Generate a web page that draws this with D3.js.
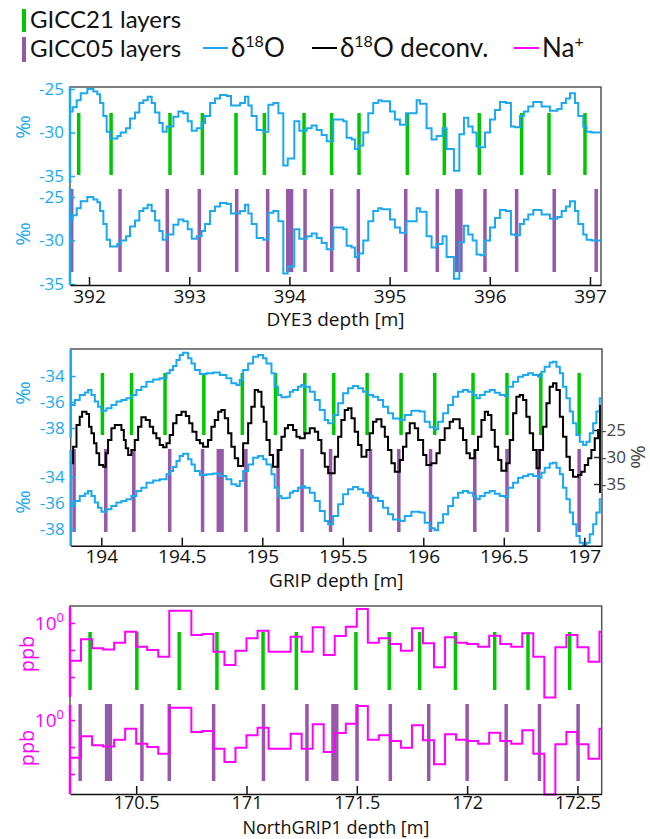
<!DOCTYPE html>
<html><head><meta charset="utf-8">
<script src="https://cdn.jsdelivr.net/npm/d3@7"></script>
<style>body{margin:0;background:#fff}svg{display:block}</style>
</head><body>
<svg id="c" width="650" height="839"></svg>
<script>
// ---------------- DATA ----------------
const legendLayers = ["GICC21 layers", "GICC05 layers"];
const legendSeries = ["δ18O", "δ18O deconv.", "Na+"];

const dye3XTicks = [392, 393, 394, 395, 396, 397];
const dye3YTicks = [-25, -30, -35];
const gripXTicks = [194, 194.5, 195, 195.5, 196, 196.5, 197];
const gripYTicks = [-34, -36, -38];
const gripDeconvTicks = [-25, -30, -35];
const ngripXTicks = [170.5, 171, 171.5, 172, 172.5];
const ngripYTicks = [1];
const ngripMinorTicks = [0.5, 0.25];

// DYE3 d18O [depth m, permil]
const dye3D18O = [[391.804,-27.6],[391.837,-27.1],[391.877,-26.3],[391.917,-25.5],[391.983,-25.0],[392.043,-25.3],[392.083,-25.6],[392.110,-26.6],[392.143,-28.1],[392.176,-29.9],[392.210,-30.7],[392.283,-30.4],[392.316,-30.0],[392.369,-29.5],[392.409,-28.4],[392.459,-27.7],[392.502,-26.6],[392.542,-26.3],[392.585,-25.9],[392.625,-26.6],[392.659,-27.7],[392.702,-28.9],[392.735,-29.9],[392.775,-29.3],[392.842,-28.2],[392.892,-27.6],[392.941,-27.8],[392.985,-28.7],[393.025,-29.8],[393.075,-29.5],[393.124,-28.9],[393.158,-28.1],[393.208,-26.6],[393.257,-26.1],[393.307,-25.7],[393.374,-25.8],[393.417,-26.9],[393.507,-26.6],[393.557,-25.9],[393.590,-26.9],[393.623,-28.1],[393.673,-29.7],[393.740,-29.9],[393.790,-26.8],[393.840,-26.6],[393.890,-27.8],[393.939,-33.8],[393.983,-33.0],[394.049,-28.7],[394.099,-29.8],[394.172,-29.5],[394.222,-29.2],[394.272,-29.7],[394.322,-30.3],[394.372,-31.0],[394.438,-28.5],[394.538,-28.7],[394.571,-30.6],[394.621,-30.8],[394.654,-31.9],[394.688,-31.5],[394.737,-30.0],[394.787,-27.8],[394.837,-26.6],[394.887,-26.3],[394.920,-26.4],[395.004,-27.6],[395.053,-28.5],[395.103,-29.1],[395.163,-27.8],[395.270,-26.3],[395.303,-26.7],[395.369,-29.5],[395.419,-30.8],[395.469,-30.4],[395.529,-29.5],[395.569,-31.9],[395.642,-34.4],[395.696,-30.2],[395.742,-28.3],[395.785,-29.3],[395.829,-30.0],[395.868,-31.6],[395.908,-31.7],[395.952,-30.0],[396.002,-28.5],[396.052,-27.4],[396.101,-26.5],[396.161,-26.6],[396.211,-29.3],[396.251,-29.4],[396.301,-28.1],[396.341,-27.6],[396.384,-27.0],[396.434,-26.5],[396.517,-27.0],[396.600,-27.5],[396.674,-27.3],[396.717,-26.6],[396.760,-26.1],[396.800,-25.5],[396.850,-26.6],[396.883,-28.1],[396.933,-29.3],[396.966,-29.9],[397.016,-30.0],[397.110,-30.0]];

// GRIP d18O [depth m, permil]
const gripD18O = [[193.811,-36.23],[193.835,-35.85],[193.866,-35.46],[193.898,-35.26],[193.918,-35.08],[193.939,-35.46],[193.960,-35.97],[193.980,-36.36],[194.001,-36.67],[194.032,-36.49],[194.063,-36.23],[194.094,-35.97],[194.125,-35.85],[194.156,-35.72],[194.187,-35.46],[194.218,-35.08],[194.249,-34.82],[194.281,-34.44],[194.322,-34.26],[194.363,-34.18],[194.405,-33.79],[194.425,-33.54],[194.446,-33.23],[194.467,-32.77],[194.487,-32.38],[194.508,-32.21],[194.539,-32.64],[194.560,-33.03],[194.581,-33.54],[194.612,-33.85],[194.653,-33.79],[194.695,-33.74],[194.736,-33.92],[194.777,-34.18],[194.808,-34.56],[194.839,-34.69],[194.860,-34.31],[194.881,-33.54],[194.912,-33.03],[194.943,-32.51],[194.974,-32.38],[195.005,-32.64],[195.026,-33.03],[195.057,-33.79],[195.077,-34.82],[195.098,-35.46],[195.119,-35.64],[195.150,-35.59],[195.171,-35.21],[195.191,-35.08],[195.222,-34.82],[195.243,-34.69],[195.264,-34.82],[195.295,-35.21],[195.326,-35.85],[195.357,-36.62],[195.388,-37.38],[195.409,-37.64],[195.440,-37.00],[195.471,-36.10],[195.502,-35.33],[195.533,-34.95],[195.564,-34.77],[195.595,-34.95],[195.626,-35.21],[195.657,-35.46],[195.688,-35.59],[195.719,-35.85],[195.750,-36.36],[195.781,-36.87],[195.812,-37.26],[195.854,-37.38],[195.885,-37.00],[195.926,-36.67],[195.978,-36.74],[196.009,-37.51],[196.040,-37.95],[196.071,-38.10],[196.092,-37.51],[196.123,-36.87],[196.154,-36.23],[196.185,-35.59],[196.216,-35.21],[196.247,-35.08],[196.278,-35.21],[196.309,-35.46],[196.330,-35.72],[196.351,-35.46],[196.382,-35.21],[196.413,-35.08],[196.444,-35.28],[196.475,-35.46],[196.506,-35.54],[196.527,-34.82],[196.558,-34.44],[196.589,-34.05],[196.620,-33.92],[196.651,-33.79],[196.682,-33.92],[196.713,-34.05],[196.734,-33.67],[196.754,-33.28],[196.785,-32.97],[196.806,-32.90],[196.827,-33.28],[196.848,-33.79],[196.868,-34.82],[196.889,-35.72],[196.910,-36.74],[196.930,-37.64],[196.951,-38.54],[196.972,-39.05],[196.993,-39.31],[197.013,-39.05],[197.034,-38.41],[197.055,-37.64],[197.075,-36.74],[197.096,-35.72],[197.110,-35.72]];

// GRIP d18O deconvolved [depth m, permil]
const gripDeconv = [[193.804,-31.17],[193.825,-28.09],[193.846,-24.07],[193.866,-22.53],[193.881,-21.60],[193.908,-22.04],[193.924,-24.38],[193.939,-25.62],[193.955,-27.47],[193.970,-29.32],[193.987,-31.48],[194.011,-31.79],[194.028,-29.32],[194.042,-26.85],[194.063,-24.69],[194.084,-24.07],[194.125,-25.00],[194.140,-26.85],[194.152,-28.40],[194.167,-29.63],[194.187,-28.70],[194.208,-26.85],[194.229,-24.38],[194.249,-22.65],[194.276,-23.15],[194.301,-24.38],[194.322,-25.62],[194.342,-26.54],[194.363,-27.78],[194.384,-28.21],[194.405,-27.47],[194.425,-25.93],[194.446,-23.77],[194.467,-22.22],[194.498,-21.60],[194.525,-22.41],[194.546,-23.77],[194.566,-25.31],[194.591,-26.85],[194.612,-27.47],[194.632,-28.09],[194.663,-26.85],[194.684,-24.38],[194.705,-23.15],[194.726,-21.60],[194.746,-21.30],[194.767,-22.84],[194.788,-25.62],[194.808,-28.09],[194.829,-30.25],[194.850,-31.67],[194.881,-27.47],[194.912,-23.77],[194.932,-20.68],[194.953,-17.59],[194.974,-17.90],[194.995,-20.68],[195.009,-23.46],[195.026,-26.85],[195.046,-29.63],[195.067,-31.79],[195.098,-28.70],[195.119,-26.23],[195.140,-24.69],[195.160,-24.07],[195.191,-25.00],[195.212,-26.23],[195.233,-26.54],[195.264,-25.62],[195.295,-24.69],[195.326,-25.31],[195.347,-26.85],[195.367,-29.32],[195.388,-31.79],[195.409,-33.02],[195.450,-29.94],[195.471,-26.23],[195.491,-23.15],[195.512,-21.30],[195.533,-20.99],[195.554,-22.84],[195.574,-25.31],[195.595,-27.78],[195.616,-29.94],[195.647,-28.70],[195.667,-25.62],[195.688,-23.46],[195.709,-23.02],[195.740,-24.38],[195.761,-26.23],[195.781,-28.70],[195.802,-31.17],[195.823,-32.72],[195.854,-30.56],[195.874,-28.09],[195.895,-25.62],[195.916,-23.77],[195.947,-24.69],[195.968,-26.85],[195.999,-29.63],[196.019,-31.48],[196.050,-31.17],[196.082,-29.32],[196.102,-26.85],[196.133,-24.69],[196.164,-23.46],[196.185,-23.02],[196.226,-24.69],[196.247,-26.85],[196.268,-29.32],[196.289,-30.25],[196.320,-28.70],[196.340,-26.23],[196.361,-23.15],[196.382,-21.60],[196.402,-22.22],[196.423,-25.00],[196.444,-28.09],[196.465,-30.56],[196.485,-32.53],[196.516,-31.17],[196.537,-26.85],[196.558,-21.91],[196.578,-18.83],[196.599,-18.52],[196.620,-19.44],[196.640,-22.53],[196.661,-25.62],[196.682,-28.70],[196.703,-32.10],[196.723,-28.70],[196.744,-24.38],[196.765,-20.06],[196.785,-16.98],[196.806,-16.36],[196.827,-17.59],[196.848,-22.53],[196.868,-26.23],[196.889,-29.94],[196.910,-32.41],[196.930,-33.64],[196.961,-33.33],[196.982,-32.72],[197.003,-31.48],[197.024,-30.25],[197.044,-28.70],[197.065,-26.54],[197.086,-25.00],[197.100,-25.00]];

// NorthGRIP1 Na+ [depth m, ppb]
const ngripNa = [[170.20,0.380],[170.25,0.658],[170.30,0.522],[170.35,0.508],[170.40,0.604],[170.45,0.800],[170.50,0.545],[170.55,0.500],[170.60,0.421],[170.65,1.372],[170.70,1.372],[170.75,0.735],[170.80,0.754],[170.85,0.479],[170.90,0.340],[170.95,0.491],[171.00,0.675],[171.05,0.821],[171.10,0.479],[171.15,0.479],[171.20,0.704],[171.25,0.479],[171.30,0.895],[171.35,0.440],[171.40,0.716],[171.45,0.910],[171.50,1.432],[171.55,0.604],[171.60,0.675],[171.65,0.583],[171.70,0.491],[171.75,0.872],[171.80,0.593],[171.85,0.321],[171.90,0.692],[171.95,0.604],[172.00,0.583],[172.05,0.545],[172.10,0.723],[172.15,0.583],[172.20,0.545],[172.25,0.767],[172.30,0.421],[172.35,0.148],[172.40,0.536],[172.45,0.735],[172.50,0.536],[172.55,0.371],[172.60,0.800],[172.61,0.800]];

// annual layer marks [depth m]
const dye3GICC21 = [391.897,392.220,392.808,393.131,393.467,393.750,394.146,394.422,394.695,395.177,395.546,395.895,396.318,396.591,396.950];
const dye3GICC05 = [391.827,392.309,392.781,393.101,393.474,393.783,394.156,394.422,394.688,395.161,395.476,395.952,396.268,396.643,397.062];
const dye3GICC05Uncertain = [[393.966,394.039],[395.653,395.729]];
const gripGICC21 = [194.007,194.188,194.396,194.637,194.876,195.082,195.264,195.444,195.651,195.862,196.071,196.309,196.520,196.730,196.968];
const gripGICC05 = [193.831,194.028,194.202,194.425,194.629,194.898,195.098,195.247,195.424,195.672,195.848,196.045,196.320,196.520,196.717,196.968];
const gripGICC05Uncertain = [[194.716,194.761]];
const ngripGICC21 = [170.291,170.503,170.695,170.866,171.075,171.226,171.496,171.647,171.785,171.947,172.125,172.276,172.465];
const ngripGICC05 = [170.246,170.526,170.650,170.851,171.077,171.274,171.501,171.652,171.826,172.000,172.177,172.328,172.503];
const ngripGICC05Uncertain = [[170.358,170.391],[171.384,171.417]];

// ---------------- STYLE ----------------
const C = {blue:"#1aa9f0", green:"#00c800", purple:"#9659a8", magenta:"#ff00ff", black:"#000", frame:"#555"};
const TICKFONT = "'Open Sans', sans-serif";
const LEGFONT = "Lato, sans-serif";
const svg = d3.select("#c");

// ---------------- LEGEND ----------------
const leg = svg.append("g");
leg.append("rect").attr("x",22).attr("y",9).attr("width",4).attr("height",23).attr("fill",C.green);
leg.append("rect").attr("x",22).attr("y",37).attr("width",4).attr("height",25).attr("fill",C.purple);
leg.append("text").attr("x",30).attr("y",28).text(legendLayers[0]);
leg.append("text").attr("x",30).attr("y",57).text(legendLayers[1]);
leg.selectAll("text").attr("font-family",LEGFONT).attr("font-size",24).attr("fill","#111");
function legItem(x0, color, label){
  leg.append("line").attr("x1",x0).attr("x2",x0+25).attr("y1",48).attr("y2",48).attr("stroke",color).attr("stroke-width",2);
  const t = leg.append("text").attr("x",x0+28).attr("y",57).attr("font-family",LEGFONT).attr("font-size",26).attr("fill","#111");
  if (label.startsWith("δ18O")) {
    t.append("tspan").text("δ");
    t.append("tspan").text("18").attr("font-size",16).attr("dy",-10);
    t.append("tspan").text(label.slice(3)).attr("dy",10);
  } else {
    t.append("tspan").text(label.slice(0,2));
    t.append("tspan").text("+").attr("font-size",16).attr("dy",-10);
  }
}
legItem(203, C.blue, legendSeries[0]);
legItem(312, C.black, legendSeries[1]);
legItem(514, C.magenta, legendSeries[2]);

// ---------------- HELPERS ----------------
const stepLine = (x, y) => d3.line().x(d => x(d[0])).y(d => y(d[1])).curve(d3.curveStepAfter);

function frame(x0, x1, y0, y1){
  svg.append("path").attr("d",`M${x0},${y1}V${y0}H${x1}V${y1}`).attr("fill","none").attr("stroke",C.frame).attr("stroke-width",1.5);
}
function xAxis(x, ticks, yPos, title, titleY, fs, pad){
  fs = fs || 19;
  const g = svg.append("g").attr("transform",`translate(0,${yPos})`)
    .call(d3.axisBottom(x).tickValues(ticks).tickFormat(d => String(d)).tickSizeInner(-8).tickSizeOuter(0).tickPadding(pad == null ? 4 : pad));
  g.select(".domain").attr("stroke","#111").attr("stroke-width",1.5);
  g.selectAll(".tick line").attr("stroke","#111").attr("stroke-width",1.5);
  g.selectAll("text").attr("font-family",TICKFONT).attr("font-size",fs).attr("fill","#111");
  svg.append("text").attr("x",(x.range()[0]+x.range()[1])/2).attr("y",titleY).attr("text-anchor","middle")
    .attr("font-family",TICKFONT).attr("font-size",fs).attr("fill","#111").text(title);
}
function yAxis(y, ticks, x0, yTop, yBot, color, fmt){
  const g = svg.append("g").attr("transform",`translate(${x0},0)`)
    .call(d3.axisLeft(y).tickValues(ticks).tickSize(-5).tickPadding(6).tickFormat(fmt || (d => String(d))));
  g.select(".domain").remove();
  g.selectAll(".tick line").attr("stroke",color).attr("stroke-width",1.5);
  g.selectAll("text").attr("font-family",TICKFONT).attr("font-size",17).attr("fill",color);
  svg.append("line").attr("x1",x0).attr("x2",x0).attr("y1",yTop).attr("y2",yBot).attr("stroke",color).attr("stroke-width",2.5);
  return g;
}
function yLabel(txt, x, y, color, rot){
  svg.append("text").attr("transform",`translate(${x},${y}) rotate(${rot||-90})`).attr("text-anchor","middle")
    .attr("dominant-baseline","central").attr("font-family",TICKFONT).attr("font-size",20).attr("fill",color).text(txt);
}
function bars(x, list, y0, y1, color){
  svg.append("g").selectAll("rect").data(list).join("rect")
    .attr("x", d => x(d) - 1.75).attr("width", 3.5).attr("y", y0).attr("height", y1 - y0).attr("fill", color);
}
function wideBars(x, list, y0, y1, color){
  svg.append("g").selectAll("rect").data(list).join("rect")
    .attr("x", d => x(d[0])).attr("width", d => x(d[1]) - x(d[0])).attr("y", y0).attr("height", y1 - y0).attr("fill", color);
}
function drawLine(data, x, y, color, w){
  svg.append("path").datum(data).attr("d", stepLine(x, y)).attr("fill","none").attr("stroke",color)
    .attr("stroke-width",w||2).attr("stroke-linejoin","miter");
}

// ---------------- PANEL 1: DYE3 ----------------
{
  const x = d3.scaleLinear().domain([391.81, 397.11]).range([70, 601]);
  const yU = d3.scaleLinear().domain([-25, -35]).range([89, 176]);
  const yL = d3.scaleLinear().domain([-25, -35]).range([197, 284]);
  frame(70, 601, 87, 285);
  bars(x, dye3GICC21, 113, 175, C.green);
  bars(x, dye3GICC05, 189, 272, C.purple);
  wideBars(x, dye3GICC05Uncertain, 189, 272, C.purple);
  drawLine(dye3D18O, x, yU, C.blue);
  drawLine(dye3D18O, x, yL, C.blue);
  yAxis(yU, dye3YTicks, 70, 87, 183, C.blue);
  yAxis(yL, dye3YTicks, 70, 188, 285, C.blue);
  yLabel("‰", 22, 127, C.blue);
  yLabel("‰", 22, 234, C.blue);
  xAxis(x, dye3XTicks, 285, "DYE3 depth [m]", 326);
}

// ---------------- PANEL 2: GRIP ----------------
{
  const x = d3.scaleLinear().domain([193.81, 197.11]).range([70.7, 602]);
  const yU = d3.scaleLinear().domain([-34, -38]).range([376, 428]);
  const yL = d3.scaleLinear().domain([-34, -38]).range([477, 529]);
  const yD = d3.scaleLinear().domain([-25, -35]).range([430, 484]);
  frame(70.7, 602, 349, 545.7);
  bars(x, gripGICC21, 373, 435, C.green);
  bars(x, gripGICC05, 449, 532, C.purple);
  wideBars(x, gripGICC05Uncertain, 449, 532, C.purple);
  drawLine(gripD18O, x, yU, C.blue);
  drawLine(gripD18O, x, yL, C.blue);
  drawLine(gripDeconv, x, yD, C.black);
  yAxis(yU, gripYTicks, 70.7, 349, 438, C.blue);
  yAxis(yL, gripYTicks, 70.7, 450, 545.7, C.blue);
  yLabel("‰", 22, 393, C.blue);
  yLabel("‰", 22, 502, C.blue);
  // right axis for deconvolved series
  const g = svg.append("g").attr("transform","translate(600,0)")
    .call(d3.axisRight(yD).tickValues(gripDeconvTicks).tickSize(-6).tickPadding(1).tickFormat(d => String(d)));
  g.select(".domain").remove();
  g.selectAll(".tick line").attr("stroke","#222").attr("stroke-width",1.5);
  g.selectAll("text").attr("font-family",TICKFONT).attr("font-size",17).attr("fill","#444");
  svg.append("line").attr("x1",600).attr("x2",600).attr("y1",405).attr("y2",493).attr("stroke","#111").attr("stroke-width",2);
  yLabel("‰", 638, 457, "#444", 90);
  xAxis(x, gripXTicks, 545.7, "GRIP depth [m]", 587);
}

// ---------------- PANEL 3: NorthGRIP1 ----------------
{
  const x = d3.scaleLinear().domain([170.2, 172.61]).range([70, 601.7]);
  const yU = d3.scaleLog().domain([1, 0.1]).range([623, 712.7]);
  const yL = d3.scaleLog().domain([1, 0.1]).range([720, 809.7]);
  frame(70, 601.7, 606, 794);
  bars(x, ngripGICC21, 632, 690, C.green);
  bars(x, ngripGICC05, 704, 781, C.purple);
  wideBars(x, ngripGICC05Uncertain, 704, 781, C.purple);
  drawLine(ngripNa, x, yU, C.magenta);
  drawLine(ngripNa, x, yL, C.magenta);
  [[yU,607,697],[yL,705,794]].forEach(([y,a,b]) => {
    const g = yAxis(y, ngripYTicks.concat(ngripMinorTicks), 70, a, b, C.magenta, () => "");
    g.selectAll(".tick text").filter(d => d === 1).each(function(){
      const t = d3.select(this).attr("font-size",19);
      t.append("tspan").text("10");
      t.append("tspan").text("0").attr("font-size",13).attr("dy",-8);
    });
  });
  yLabel("ppb", 26, 654, C.magenta);
  yLabel("ppb", 26, 748, C.magenta);
  xAxis(x, ngripXTicks, 794, "NorthGRIP1 depth [m]", 834, 18, 2);
}
</script>
</body></html>
